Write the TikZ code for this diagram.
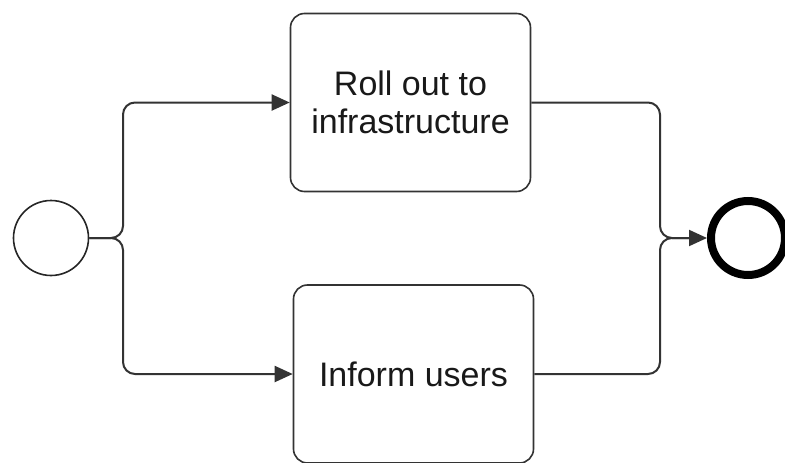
\documentclass[tikz,border=0pt]{standalone}
\usepackage{fontspec}
\setmainfont{Liberation Sans}
\usetikzlibrary{arrows.meta}
\begin{document}
\begin{tikzpicture}[x=1pt,y=-1pt,
  flowline/.style={draw=black!80, line width=2pt, rounded corners=12pt},
  flowarrow/.style={flowline, -{Triangle[length=18pt,width=16pt]}},
  task/.style={draw=black!80, line width=1.6pt, rounded corners=14pt, fill=white,
    minimum width=240pt, minimum height=178pt, align=center,
    font=\fontsize{34}{38}\selectfont, text=black!90, inner sep=0pt},
  startevent/.style={circle, draw=black!85, line width=1.6pt, minimum size=75pt, inner sep=0pt},
  endevent/.style={circle, draw=black, line width=8pt, minimum size=74pt, inner sep=0pt}
]
\useasboundingbox (0,0) rectangle (785,463);

\node[startevent] (start) at (51,238) {};
\node[task] (roll) at (410.5,102.5) {Roll out to\\infrastructure};
\node[task] (inform) at (413.5,374) {Inform users};
\node[endevent] (end) at (748,238) {};

% split after the start event
\coordinate (splitx) at (123,238);
\draw[flowarrow] (start.east) -| (splitx |- roll.west) -- (roll.west);
\draw[flowarrow] (start.east) -| (splitx |- inform.west) -- (inform.west);

% join before the end event
\coordinate (joinx) at (660,238);
\coordinate (merge) at (690,238);
\draw[flowline] (roll.east) -| (joinx) -- (merge);
\draw[flowline] (inform.east) -| (joinx) -- (merge);
\draw[flowarrow] (merge) -- (end.west);
\end{tikzpicture}
\end{document}
